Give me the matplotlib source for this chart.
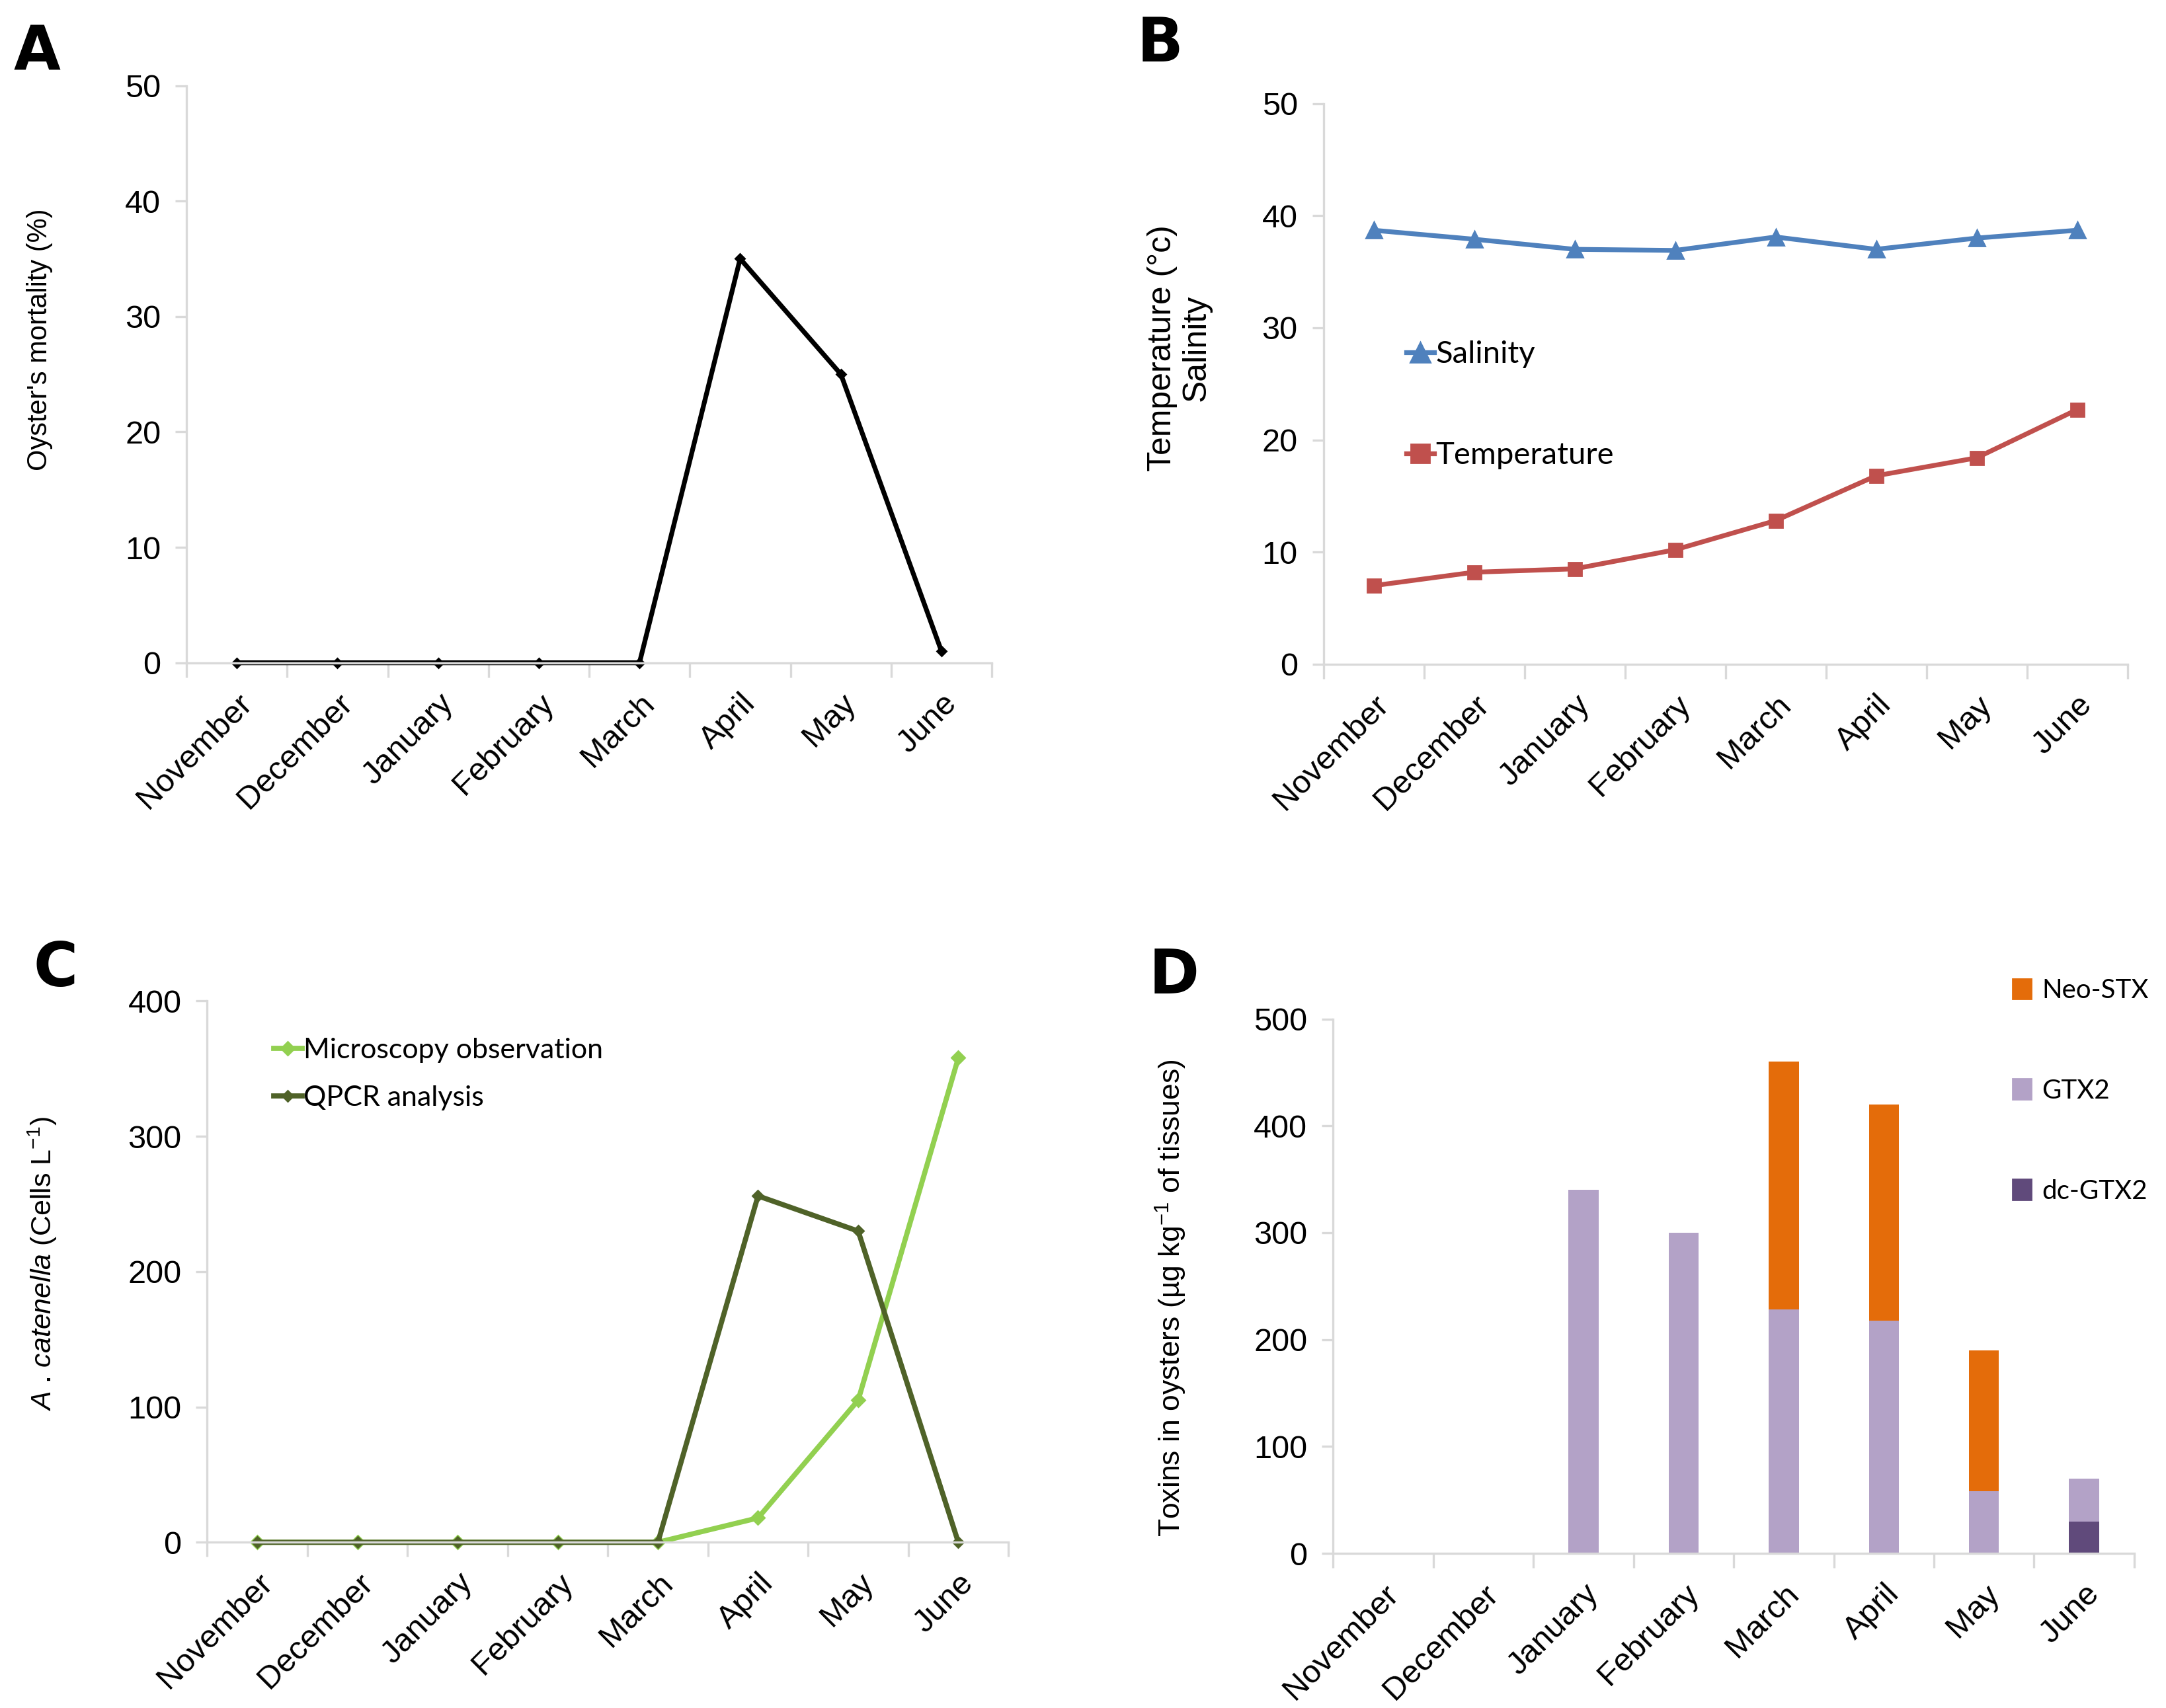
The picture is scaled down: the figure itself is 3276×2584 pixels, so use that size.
import matplotlib
matplotlib.use("Agg")
import matplotlib.pyplot as plt
from matplotlib.patches import Patch
import numpy as np

months = ["November", "December", "January", "February", "March", "April", "May", "June"]
mortality = [0, 0, 0, 0, 0, 35, 25, 1]
salinity = [38.7, 37.9, 37.0, 36.9, 38.1, 37.0, 38.0, 38.7]
temperature = [7.0, 8.2, 8.5, 10.2, 12.8, 16.8, 18.4, 22.7]
microscopy = [0, 0, 0, 0, 0, 18, 105, 358]
qpcr = [0, 0, 0, 0, 0, 256, 230, 0]
dc_gtx2 = [0, 0, 0, 0, 0, 0, 0, 30]
gtx2 = [0, 0, 340, 300, 228, 218, 58, 40]
neo_stx = [0, 0, 0, 0, 232, 202, 132, 0]

plt.rcParams['font.family'] = ['Liberation Sans', 'DejaVu Sans']
plt.rcParams['mathtext.fontset'] = 'custom'
plt.rcParams['mathtext.rm'] = 'Liberation Sans'
plt.rcParams['mathtext.it'] = 'Liberation Sans:italic'

W, H = 1568.0, 1237.0
fig = plt.figure(figsize=(16.38, 12.92), dpi=200)

def rect(l, r, b, t):
    return [l / W, 1 - b / H, (r - l) / W, (b - t) / H]

GRAY = "#D9D9D9"
TICKFS = 17.5
x = np.arange(len(months))

def style(ax, ymax, ystep):
    for s in ("top", "right"):
        ax.spines[s].set_visible(False)
    for s in ("left", "bottom"):
        ax.spines[s].set_color(GRAY)
        ax.spines[s].set_linewidth(1.2)
    ax.set_xlim(-0.5, len(months) - 0.5)
    ax.set_ylim(0, ymax)
    ax.set_yticks(np.arange(0, ymax + 1, ystep))
    ax.set_xticks(x)
    ax.set_xticklabels(months, rotation=45, ha="right", rotation_mode="anchor", fontsize=TICKFS)
    ax.set_xticks(np.arange(-0.5, len(months), 1.0), minor=True)
    ax.tick_params(axis="x", which="major", length=0, pad=14)
    ax.tick_params(axis="x", which="minor", length=8, color=GRAY, width=1.2)
    ax.tick_params(axis="y", length=6, color=GRAY, width=1.2, labelsize=TICKFS, pad=8)

LETTER = dict(fontsize=33, fontweight="bold", va="center", ha="center", family="DejaVu Sans")
LEGFONT = {"family": "Lato", "size": 17}

# Panel A
axA = fig.add_axes(rect(135, 718, 480, 62))
axA.plot(x, mortality, color="black", lw=2.6, marker="D", ms=3.4, clip_on=False)
style(axA, 50, 10)
axA.set_ylabel("Oyster's mortality (%)", fontsize=15)
axA.yaxis.set_label_coords(-0.166, 0.56)
fig.text(27 / W, 1 - 38 / H, "A", **LETTER)

# Panel B
axB = fig.add_axes(rect(958, 1540, 481, 75))
axB.plot(x, salinity, color="#4F81BD", lw=2.6, marker="^", ms=8.5, label="Salinity", clip_on=False)
axB.plot(x, temperature, color="#C0504D", lw=2.6, marker="s", ms=7.5, label="Temperature", clip_on=False)
style(axB, 50, 10)
axB.set_ylabel("Temperature (°c)\nSalinity", fontsize=18, linespacing=1.15)
axB.yaxis.set_label_coords(-0.139, 0.564)
axB.legend(loc="center left", bbox_to_anchor=(0.103, 0.462), frameon=False, borderpad=0, borderaxespad=0,
           prop=LEGFONT, labelspacing=2.35, handlelength=0.9,
           handletextpad=0.05, markerscale=1.3)
fig.text(840 / W, 1 - 32 / H, "B", **LETTER)

# Panel C
axC = fig.add_axes(rect(150, 730, 1117, 725))
axC.plot(x, microscopy, color="#92D050", lw=2.8, marker="D", ms=5, label="Microscopy observation", clip_on=False)
axC.plot(x, qpcr, color="#4F6228", lw=2.8, marker="D", ms=4, label="QPCR analysis", clip_on=False)
style(axC, 400, 100)
axC.set_ylabel(r"$\it{A}$ . $\it{catenella}$ (Cells L$^{-1}$)", fontsize=15.5)
axC.yaxis.set_label_coords(-0.185, 0.515)
axC.legend(loc="center left", bbox_to_anchor=(0.083, (1117 - 778) / 392), frameon=False,
           borderpad=0, borderaxespad=0,
           prop={"family": "Lato", "size": 15.5}, labelspacing=0.8, handlelength=1.0,
           handletextpad=0.05, markerscale=1.0)
fig.text(40 / W, 1 - 702 / H, "C", **LETTER)

# Panel D
axD = fig.add_axes(rect(965, 1545, 1125, 738))
bw = 0.3
c_dc, c_gtx, c_neo = "#604A7B", "#B3A2C7", "#E46C0A"
axD.bar(x, dc_gtx2, bw, color=c_dc, label="dc-GTX2")
axD.bar(x, gtx2, bw, bottom=dc_gtx2, color=c_gtx, label="GTX2")
bot = np.array(dc_gtx2) + np.array(gtx2)
axD.bar(x, neo_stx, bw, bottom=bot, color=c_neo, label="Neo-STX")
style(axD, 500, 100)
axD.set_ylabel(r"Toxins in oysters (µg kg$^{-1}$ of tissues)", fontsize=16)
axD.yaxis.set_label_coords(-0.181, 0.478)
handles = [Patch(color=c_neo, label="Neo-STX"), Patch(color=c_gtx, label="GTX2"), Patch(color=c_dc, label="dc-GTX2")]
fig.legend(handles=handles, loc="center left", bbox_to_anchor=(1457 / W, 1 - 790 / H), frameon=False,
           borderpad=0, borderaxespad=0,
           prop={"family": "Lato", "size": 14.5}, labelspacing=2.85, handlelength=0.7, handleheight=0.8,
           handletextpad=0.4)
fig.text(850 / W, 1 - 707 / H, "D", **LETTER)

fig.savefig("out.png", dpi=200, facecolor="white")
